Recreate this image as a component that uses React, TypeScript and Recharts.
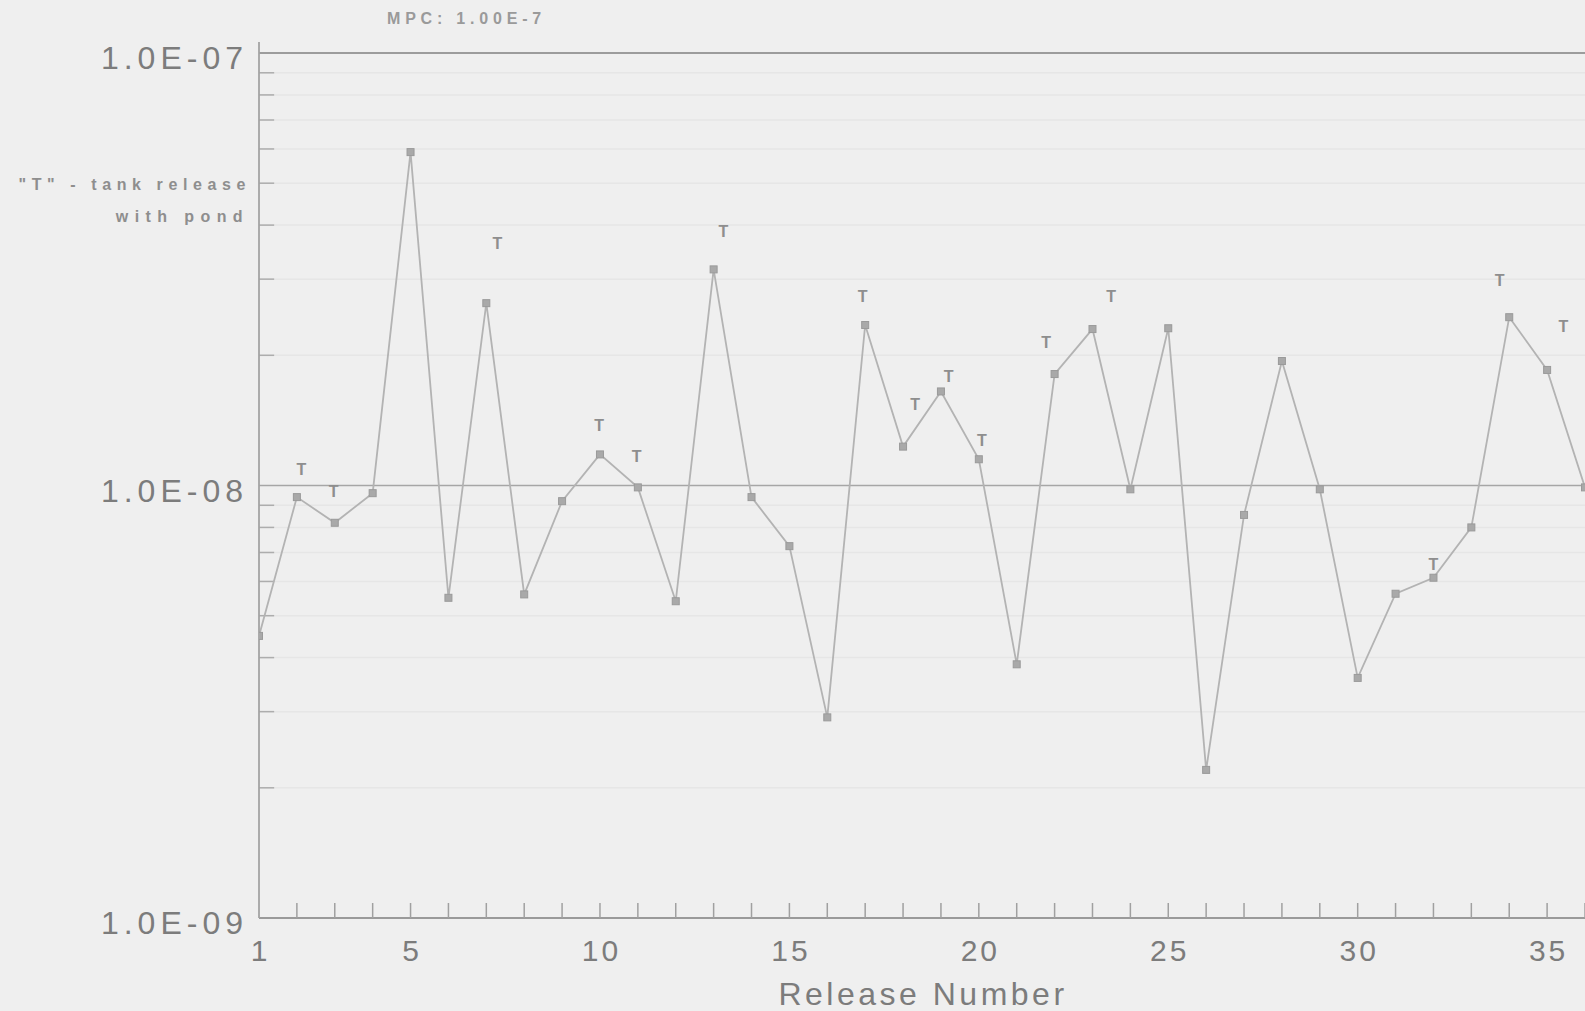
import React from 'react';
import { ComposedChart, Line, XAxis, YAxis, ReferenceLine, ReferenceDot } from 'recharts';

const releaseNumbers = [1, 2, 3, 4, 5, 6, 7, 8, 9, 10, 11, 12, 13, 14, 15, 16, 17, 18, 19, 20, 21, 22, 23, 24, 25, 26, 27, 28, 29, 30, 31, 32, 33, 34, 35, 36];
const concentrations = [
  4.49e-9, 9.4e-9, 8.2e-9, 9.6e-9, 5.9e-8, 5.5e-9, 2.64e-8, 5.6e-9, 9.2e-9, 1.18e-8,
  9.9e-9, 5.4e-9, 3.16e-8, 9.4e-9, 7.24e-9, 2.91e-9, 2.35e-8, 1.23e-8, 1.65e-8, 1.15e-8,
  3.86e-9, 1.81e-8, 2.3e-8, 9.8e-9, 2.31e-8, 2.2e-9, 8.55e-9, 1.94e-8, 9.8e-9, 3.59e-9,
  5.62e-9, 6.12e-9, 8.0e-9, 2.45e-8, 1.85e-8, 9.9e-9,
];
const tankMarkX = [2.12, 2.97, 7.29, 9.98, 10.97, 13.26, 16.93, 18.32, 19.2, 20.08, 21.78, 23.49, 32.0, 33.75, 35.43];
const tankMarkY = [1.087e-8, 9.7e-9, 3.62e-8, 1.38e-8, 1.17e-8, 3.87e-8, 2.74e-8, 1.54e-8, 1.79e-8, 1.27e-8, 2.14e-8, 2.74e-8, 6.56e-9, 2.98e-8, 2.33e-8];

const xTicks = releaseNumbers;
const xLabelled = [1, 5, 10, 15, 20, 25, 30, 35];
const yMajorTicks = [1e-9, 1e-8, 1e-7];
const yTickLabels = ['1.0E-09', '1.0E-08', '1.0E-07'];
const yMinor = [2e-9, 3e-9, 4e-9, 5e-9, 6e-9, 7e-9, 8e-9, 9e-9, 2e-8, 3e-8, 4e-8, 5e-8, 6e-8, 7e-8, 8e-8, 9e-8];
const mpcValue = 1e-7;

const chartData = releaseNumbers.map((x, i) => ({ x, y: concentrations[i] }));

const FONT = '"Liberation Sans", Arial, Helvetica, sans-serif';
const TEXT = '#7c7c7c';
const BG = '#efefef';

const YTick = (props: any) => {
  const { x, y, payload } = props;
  const idx = yMajorTicks.indexOf(payload.value);
  return (
    <text x={x - 11} y={y + 16} textAnchor="end" fontFamily={FONT} fontSize={32} letterSpacing={5} fill={TEXT}>
      {idx >= 0 ? yTickLabels[idx] : ''}
    </text>
  );
};

const XTick = (props: any) => {
  const { x, y, payload } = props;
  const v = payload.value;
  return (
    <g>
      {v > 1 && <line x1={x} x2={x} y1={y} y2={y - 15} stroke="#a0a0a0" strokeWidth={1.5} />}
      {xLabelled.includes(v) && (
        <text x={x + 1.5} y={y + 43} textAnchor="middle" fontFamily={FONT} fontSize={30} letterSpacing={3} fill={TEXT}>
          {String(v)}
        </text>
      )}
    </g>
  );
};

const SquareDot = (props: any) => {
  const { cx, cy } = props;
  if (cx == null || cy == null) return null;
  return <rect x={cx - 3.5} y={cy - 3.5} width={7} height={7} fill="#a9a9a9" stroke="#9a9a9a" strokeWidth={1} />;
};

const TMark = (props: any) => {
  const { cx, cy } = props;
  return (
    <text x={cx} y={cy} textAnchor="middle" dominantBaseline="central" fontFamily={FONT} fontSize={16} fontWeight={600} fill="#8e8e8e">
      T
    </text>
  );
};

export default function App() {
  return (
    <div style={{ position: 'absolute', left: 0, top: 0, width: 1585, height: 1011, background: BG, overflow: 'hidden' }}>
      <ComposedChart width={1585} height={1011} data={chartData} margin={{ top: 53, right: 0, bottom: 0, left: 0 }}>
        {yMinor.map((v) => (
          <ReferenceLine key={'g' + v} y={v} stroke="#e6e6e6" strokeWidth={1.5} />
        ))}
        {yMinor.map((v) => (
          <ReferenceLine key={'t' + v} segment={[{ x: 1, y: v }, { x: 1.4, y: v }]} stroke="#adadad" strokeWidth={1.5} />
        ))}
        <ReferenceLine y={1e-8} stroke="#a6a6a6" strokeWidth={1.6} />
        <ReferenceLine y={mpcValue} stroke="#9c9c9c" strokeWidth={1.8} />
        <XAxis
          dataKey="x"
          type="number"
          domain={[1, 36]}
          ticks={xTicks}
          interval={0}
          height={93}
          tickSize={0}
          tickMargin={0}
          tickLine={false}
          tick={<XTick />}
          axisLine={{ stroke: '#9a9a9a', strokeWidth: 1.8 }}
          allowDataOverflow
        />
        <YAxis
          type="number"
          scale="log"
          domain={[1e-9, 1e-7]}
          ticks={yMajorTicks}
          interval={0}
          width={259}
          tickSize={0}
          tickMargin={0}
          tickLine={false}
          tick={<YTick />}
          axisLine={{ stroke: '#a3a3a3', strokeWidth: 1.8 }}
          allowDataOverflow
        />
        <Line
          dataKey="y"
          stroke="#b3b3b3"
          strokeWidth={1.8}
          dot={<SquareDot />}
          activeDot={false}
          isAnimationActive={false}
        />
        {tankMarkX.map((tx, i) => (
          <ReferenceDot key={'T' + i} x={tx} y={tankMarkY[i]} r={0} shape={<TMark />} ifOverflow="visible" />
        ))}
      </ComposedChart>
      <svg width={1585} height={1011} style={{ position: 'absolute', left: 0, top: 0, pointerEvents: 'none' }}>
        <line x1={259} x2={259} y1={42} y2={53} stroke="#a3a3a3" strokeWidth={1.8} />
        <text x={387} y={24} fontFamily={FONT} fontSize={16} fontWeight={700} letterSpacing={4.8} fill="#9a9a9a">
          MPC: 1.00E-7
        </text>
        <text x={251} y={190} textAnchor="end" fontFamily={FONT} fontSize={16} fontWeight={700} letterSpacing={5.6} fill="#8e8e8e">
          "T" - tank release
        </text>
        <text x={249} y={222} textAnchor="end" fontFamily={FONT} fontSize={16} fontWeight={700} letterSpacing={6.4} fill="#8e8e8e">
          with pond
        </text>
        <text x={923} y={1005} textAnchor="middle" fontFamily={FONT} fontSize={32} letterSpacing={3.5} fill={TEXT}>
          Release Number
        </text>
      </svg>
    </div>
  );
}
